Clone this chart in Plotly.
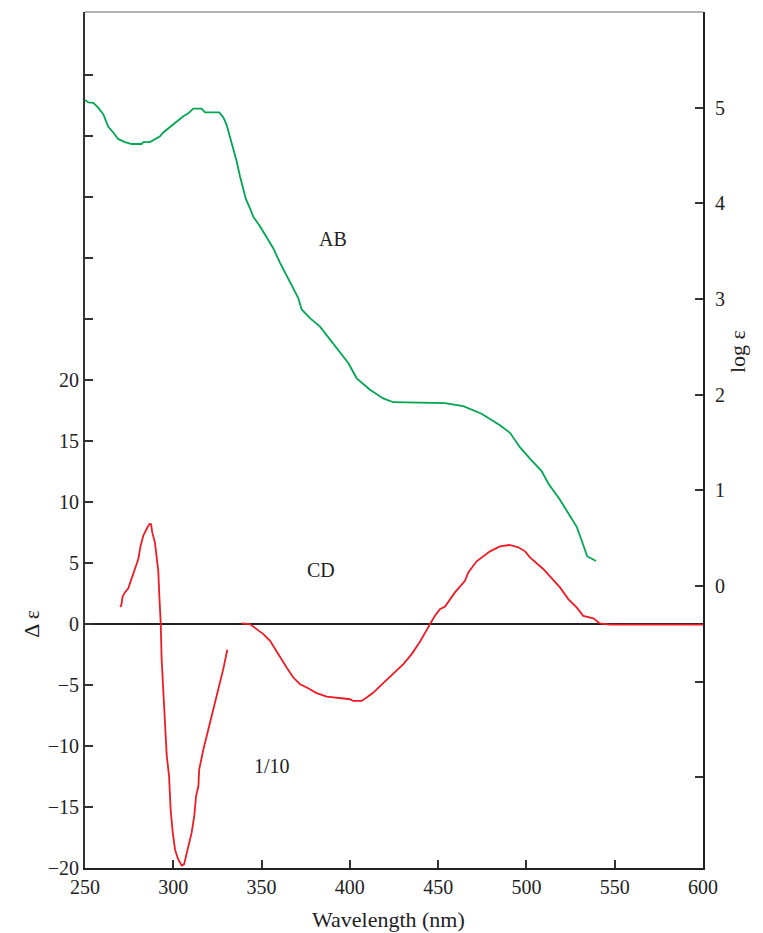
import plotly.graph_objects as go

# AB absorption (log epsilon, right axis)
ab_wl = [250, 251.9, 254.7, 257.5, 260.4, 263.2, 266, 268.9, 272.7, 276.4, 282.1, 283, 286.8,
         289.6, 292.5, 294.3, 298.1, 301.9, 305.7, 308.5, 311.3, 316.0, 318, 326, 328.3, 330.2,
         332.1, 334, 335.9, 337.8, 339.6, 341.2, 343.4, 345.3, 349.1, 352.9, 356.6, 360.4,
         364.2, 368.0, 370.8, 372.7, 377.4, 383.1, 388.7, 394.4, 399.1, 403.9, 411.4, 418.9,
         424.6, 453.9, 464.2, 474.6, 485.0, 490.7, 496.3, 502.0, 508.6, 512.4, 519.0, 523.7,
         528.4, 531.2, 534.4, 539.4]
ab_log = [5.08, 5.055, 5.05, 5.0, 4.93, 4.80, 4.74, 4.67, 4.64, 4.62, 4.62, 4.64, 4.64,
          4.67, 4.70, 4.74, 4.80, 4.86, 4.91, 4.94, 4.99, 4.99, 4.95, 4.95, 4.90, 4.82,
          4.70, 4.58, 4.44, 4.28, 4.16, 4.04, 3.95, 3.86, 3.76, 3.64, 3.53, 3.38,
          3.24, 3.11, 3.01, 2.89, 2.80, 2.71, 2.58, 2.45, 2.33, 2.17, 2.05, 1.96,
          1.92, 1.91, 1.88, 1.80, 1.68, 1.60, 1.45, 1.33, 1.20, 1.07, 0.90, 0.76,
          0.62, 0.48, 0.31, 0.26]

# CD, first segment (scaled 1/10)
cd1_wl = [269.8, 270.5, 271.3, 272.6, 274.5, 276.4, 278.3, 280.2, 281.5, 283.0, 284.9, 286.4,
          287.4, 288.1, 289.6, 291.5, 292.1, 292.9, 293.4, 294.7, 296.3, 297.6, 298.5, 299.7,
          301.0, 302.8, 304.8, 306.1, 307.9, 310.4, 311.9, 312.9, 314.2, 314.7, 317.0, 320.8,
          324.6, 328.3, 330.6]
cd1_de = [1.42, 1.5, 2.27, 2.6, 2.93, 3.69, 4.5, 5.34, 6.43, 7.25, 7.8, 8.2,
          8.2, 7.52, 6.7, 4.38, 2.32, 0.0, -2.87, -6.98, -10.8, -12.45, -15.2, -17.1,
          -18.5, -19.3, -19.8, -19.7, -18.7, -17.1, -15.7, -14.1, -13.3, -11.9, -10.3, -8.07,
          -5.88, -3.69, -2.1]

# CD, second segment
cd2_wl = [338.7, 343.4, 347.2, 351.0, 354.8, 357.6, 361.4, 364.2, 368.0, 371.8, 375.6, 381.2,
          386.9, 394.4, 400.1, 401.9, 406.7, 409.5, 413.3, 418.9, 424.6, 430.3, 435.0, 439.7,
          445.4, 448.2, 451.0, 453.9, 459.5, 465.2, 467.1, 471.8, 479.4, 485.0, 490.3, 495.4,
          499.2, 502.0, 509.5, 519.0, 523.7, 528.4, 532.2, 537.9, 541.6, 547.3, 600]
cd2_de = [0.05, 0.0, -0.41, -0.82, -1.37, -2.05, -2.87, -3.56, -4.38, -4.93, -5.2, -5.66,
          -5.94, -6.1, -6.16, -6.3, -6.3, -6.02, -5.61, -4.84, -4.1, -3.28, -2.46, -1.45,
          0.0, 0.68, 1.23, 1.45, 2.6, 3.56, 4.24, 5.15, 5.97, 6.38, 6.49, 6.3,
          5.97, 5.48, 4.52, 3.01, 2.05, 1.37, 0.68, 0.47, 0.06, -0.04, -0.04]

left_ticks = [-20, -15, -10, -5, 0, 5, 10, 15, 20, 25, 30, 35, 40, 45]
left_labels = ["\u221220", "\u221215", "\u221210", "\u22125", "0", "5", "10", "15", "20",
               "", "", "", "", ""]
right_ticks = [-2, -1, 0, 1, 2, 3, 4, 5]
right_labels = ["", "", "0", "1", "2", "3", "4", "5"]
x_ticks = [250, 300, 350, 400, 450, 500, 550, 600]

GREEN = "#00a651"
RED = "#ed1c24"
FONT = "Liberation Serif"
TXT = "#222"

fig = go.Figure()
fig.add_trace(go.Scatter(x=cd1_wl, y=cd1_de, mode="lines", line=dict(color=RED, width=1.8),
                         showlegend=False, yaxis="y"))
fig.add_trace(go.Scatter(x=cd2_wl, y=cd2_de, mode="lines", line=dict(color=RED, width=1.8),
                         showlegend=False, yaxis="y"))
fig.add_trace(go.Scatter(x=ab_wl, y=ab_log, mode="lines", line=dict(color=GREEN, width=1.8),
                         showlegend=False, yaxis="y2"))

fig.update_layout(
    width=755, height=925,
    margin=dict(l=77, r=60, t=4, b=65),
    paper_bgcolor="white", plot_bgcolor="white",
    font=dict(family=FONT, size=20, color=TXT),
    xaxis=dict(range=[250, 600], tickvals=x_ticks, ticks="inside", ticklen=8,
               tickcolor="#333", tickwidth=1.5, showline=True, linecolor="#222",
               linewidth=2, showgrid=False, zeroline=False),
    yaxis=dict(range=[-20, 50.2], tickvals=left_ticks, ticktext=left_labels,
               ticks="inside", ticklen=8, tickcolor="#333", tickwidth=1.5,
               showline=True, linecolor="#333", linewidth=2, showgrid=False,
               zeroline=True, zerolinecolor="#222", zerolinewidth=1.8),
    yaxis2=dict(range=[-2.95, 6.0], overlaying="y", side="right", tickvals=right_ticks,
                ticktext=right_labels, ticks="inside", ticklen=8, tickcolor="#333",
                tickwidth=1.5, showline=True, linecolor="#222", linewidth=2,
                showgrid=False, zeroline=False, ticklabelstandoff=6),
    shapes=[dict(type="line", xref="paper", yref="paper", x0=0, x1=1, y0=1, y1=1,
                 line=dict(color="#999", width=1.5))],
    annotations=[
        dict(text="AB", x=390.4, y=31.6, xref="x", yref="y", showarrow=False,
             font=dict(family=FONT, size=20, color=TXT)),
        dict(text="CD", x=383.6, y=4.43, xref="x", yref="y", showarrow=False,
             font=dict(family=FONT, size=20, color=TXT)),
        dict(text="1/10", x=355.9, y=-11.6, xref="x", yref="y", showarrow=False,
             font=dict(family=FONT, size=20, color=TXT)),
        dict(text="Wavelength (nm)", x=0.5, y=0, xref="paper", yref="paper",
             yanchor="middle", yshift=-51, xshift=-6, showarrow=False,
             font=dict(family=FONT, size=22, color=TXT)),
        dict(text="\u0394 \u03b5", x=0, y=0, xref="paper", yref="y", xshift=-68,
             textangle=-90, showarrow=False,
             font=dict(family=FONT, size=22, color=TXT)),
        dict(text="log \u03b5", x=1, y=2.45, xref="paper", yref="y2", xshift=49,
             textangle=-90, showarrow=False,
             font=dict(family=FONT, size=22, color=TXT)),
    ],
)

fig.write_html("out.html")
